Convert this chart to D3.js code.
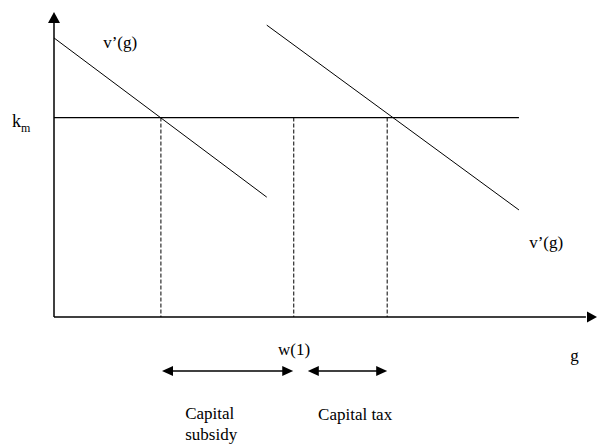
<!DOCTYPE html>
<html>
<head>
<meta charset="utf-8">
<script src="https://cdn.jsdelivr.net/npm/d3@7"></script>
<style>
  body { margin: 0; background: #fff; }
  text { font-family: "Liberation Serif", "Times New Roman", serif; fill: #000; }
</style>
</head>
<body>
<svg id="chart" width="599" height="448"></svg>
<script>
// all values in diagram units: g runs 0..100 on the horizontal axis, 0..100 up the vertical one
var kmLevel = 65.4;                                  // height of the k_m line
var kmEnd = 86.1;                                    // where the k_m line stops
var curveLow = [[0, 91.5], [39.4, 39.3]];            // left v'(g)
var curveHigh = [[39.4, 95.7], [86.1, 35.1]];        // right v'(g)
var dropLines = [19.8, 44.4, 61.7];                  // dashed verticals
var spans = [[20, 44.3], [47, 61.7]];                // double arrows under the axis
var spanLevel = -17.7;
var labels = [
  { text: "v\u2019(g)", g: 9.1, v: 88.2 },
  { text: "v\u2019(g)", g: 88, v: 22.6 },
  { text: "w(1)", g: 41.5, v: -12.5 },
  { text: "g", g: 95.6, v: -14.4 },
  { text: "Capital", g: 24.3, v: -33.5 },
  { text: "subsidy", g: 24.3, v: -40.3 },
  { text: "Capital tax", g: 48.9, v: -33.8 }
];

var svg = d3.select("#chart");
var x = d3.scaleLinear().domain([0, 100]).range([54, 594]);
var y = d3.scaleLinear().domain([0, 100]).range([317, 12]);

// axes
svg.append("line")
  .attr("x1", x(0)).attr("y1", y(0))
  .attr("x2", x(0)).attr("y2", y(97))
  .attr("stroke", "#000").attr("stroke-width", 1.5);
svg.append("line")
  .attr("x1", x(0)).attr("y1", y(0))
  .attr("x2", x(98.5)).attr("y2", y(0))
  .attr("stroke", "#000").attr("stroke-width", 1.5);
svg.append("path")
  .attr("d", "M" + x(0) + "," + y(100) + "L" + (x(0) - 6) + "," + (y(100) + 11) + "L" + (x(0) + 6) + "," + (y(100) + 11) + "Z")
  .attr("fill", "#000");
svg.append("path")
  .attr("d", "M" + (x(100) + 3) + "," + y(0) + "L" + (x(100) - 7) + "," + (y(0) - 5.5) + "L" + (x(100) - 7) + "," + (y(0) + 5.5) + "Z")
  .attr("fill", "#000");

// k_m line
svg.append("line")
  .attr("x1", x(0)).attr("y1", y(kmLevel))
  .attr("x2", x(kmEnd)).attr("y2", y(kmLevel))
  .attr("stroke", "#000").attr("stroke-width", 1.2);

// curves
var line = d3.line().x(function(d) { return x(d[0]); }).y(function(d) { return y(d[1]); });
[curveLow, curveHigh].forEach(function(c) {
  svg.append("path").attr("d", line(c))
    .attr("fill", "none").attr("stroke", "#000").attr("stroke-width", 1);
});

// dashed verticals
svg.selectAll(".drop").data(dropLines).enter().append("line")
  .attr("class", "drop")
  .attr("x1", function(d) { return x(d); }).attr("y1", y(kmLevel))
  .attr("x2", function(d) { return x(d); }).attr("y2", y(0))
  .attr("stroke", "#000").attr("stroke-width", 1)
  .attr("stroke-dasharray", "4,2");

// double arrows
spans.forEach(function(s) {
  var a = x(s[0]), b = x(s[1]), yy = y(spanLevel);
  svg.append("line")
    .attr("x1", a + 6).attr("y1", yy).attr("x2", b - 6).attr("y2", yy)
    .attr("stroke", "#000").attr("stroke-width", 1.5);
  svg.append("path")
    .attr("d", "M" + a + "," + yy + "L" + (a + 11) + "," + (yy - 5) + "L" + (a + 11) + "," + (yy + 5) + "Z")
    .attr("fill", "#000");
  svg.append("path")
    .attr("d", "M" + b + "," + yy + "L" + (b - 11) + "," + (yy - 5) + "L" + (b - 11) + "," + (yy + 5) + "Z")
    .attr("fill", "#000");
});

// labels
svg.selectAll(".lab").data(labels).enter().append("text")
  .attr("class", "lab")
  .attr("x", function(d) { return x(d.g); })
  .attr("y", function(d) { return y(d.v); })
  .attr("font-size", 17)
  .text(function(d) { return d.text; });

var km = svg.append("text").attr("x", 12).attr("y", 127).attr("font-size", 18);
km.append("tspan").text("k");
km.append("tspan").attr("font-size", 12).attr("dy", 5).text("m");
</script>
</body>
</html>
